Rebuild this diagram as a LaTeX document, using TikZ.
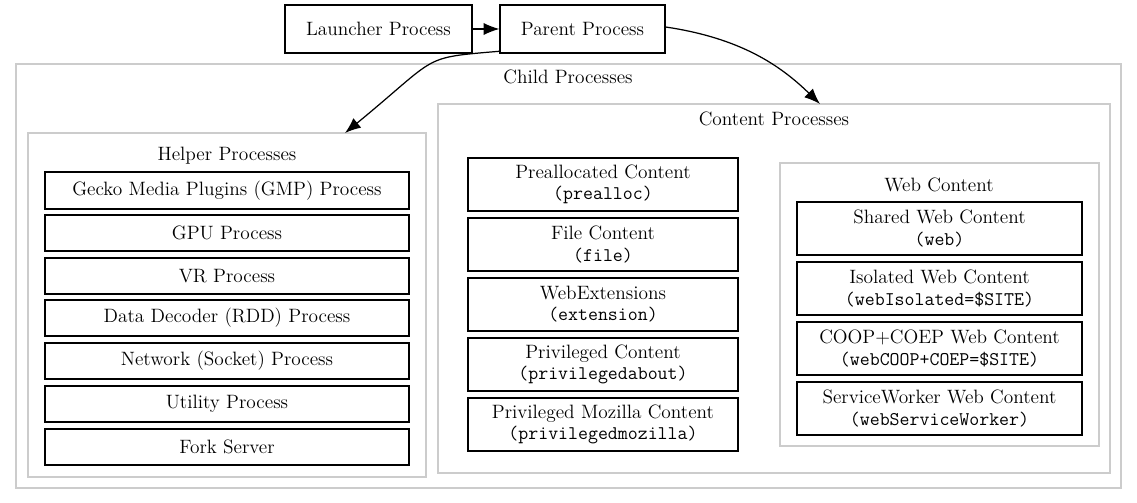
\documentclass[tikz,border=0pt]{standalone}
\usepackage{tikz}
\usetikzlibrary{arrows.meta}
\tikzset{
  proc/.style={draw, line width=0.7pt, inner sep=0pt, align=center, font=\fontsize{11}{12}\selectfont},
  cluster/.style={draw=black!20, line width=0.7pt},
  clabel/.style={font=\fontsize{11}{12}\selectfont},
  edge/.style={-{Latex[length=9pt,width=7pt]}, line width=0.7pt}
}
\newcommand{\pbox}[6]{%
  \node[proc, minimum width={(#4-#2)*0.02cm}, minimum height={(#5-#3)*0.02cm}]
    (#1) at ({(#2+#4)/2},{(#3+#5)/2}) {#6};}
\begin{document}
\begin{tikzpicture}[x=0.02cm, y=-0.02cm]
\useasboundingbox (0,0) rectangle (1137,503);

% clusters
\draw[cluster] (16,64) rectangle (1121,488);
\node[clabel] (childlbl) at (568,77) {Child Processes};
\draw[cluster] (28,133) rectangle (426,477);
\node[clabel] (helperlbl) at (227,156) {Helper Processes};
\draw[cluster] (438,104) rectangle (1110,473);
\node[clabel] (contentlbl) at (774,119) {Content Processes};
\draw[cluster] (780,163) rectangle (1099,446);
\node[clabel] (weblbl) at (939,185) {Web Content};
\coordinate (helpertop) at (345,133);
\coordinate (contenttop) at (820,104);

% top
\pbox{launcher}{285}{5}{472}{53}{Launcher Process}
\pbox{parent}{500}{5}{665}{53}{Parent Process}

% helpers
\pbox{gmp}{45}{172}{409}{209}{Gecko Media Plugins (GMP) Process}
\pbox{gpu}{45}{215}{409}{251}{GPU Process}
\pbox{vr}{45}{258}{409}{294}{VR Process}
\pbox{rdd}{45}{300}{409}{336}{Data Decoder (RDD) Process}
\pbox{socket}{45}{343}{409}{379}{Network (Socket) Process}
\pbox{utility}{45}{386}{409}{422}{Utility Process}
\pbox{fork}{45}{429}{409}{465}{Fork Server}

% content
\pbox{prealloc}{468}{158}{738}{211}{Preallocated Content\\\texttt{(prealloc)}}
\pbox{file}{468}{218}{738}{271}{File Content\\\texttt{(file)}}
\pbox{extension}{468}{278}{738}{331}{WebExtensions\\\texttt{(extension)}}
\pbox{privabout}{468}{338}{738}{391}{Privileged Content\\\texttt{(privilegedabout)}}
\pbox{privmoz}{468}{398}{738}{451}{Privileged Mozilla Content\\\texttt{(privilegedmozilla)}}

% web content
\pbox{web}{797}{202}{1082}{255}{Shared Web Content\\\texttt{(web)}}
\pbox{isolated}{797}{262}{1082}{315}{Isolated Web Content\\\texttt{(webIsolated=\$SITE)}}
\pbox{coop}{797}{322}{1082}{375}{COOP+COEP Web Content\\\texttt{(webCOOP+COEP=\$SITE)}}
\pbox{sw}{797}{382}{1082}{435}{ServiceWorker Web Content\\\texttt{(webServiceWorker)}}

% edges
\draw[edge] (launcher) -- (parent);
\draw[edge] (parent.195) .. controls (420,58) and (440,55) .. (helpertop);
\draw[edge] (parent.east) ++(0,-2) .. controls (740,38) and (780,65) .. (contenttop);
\end{tikzpicture}
\end{document}
